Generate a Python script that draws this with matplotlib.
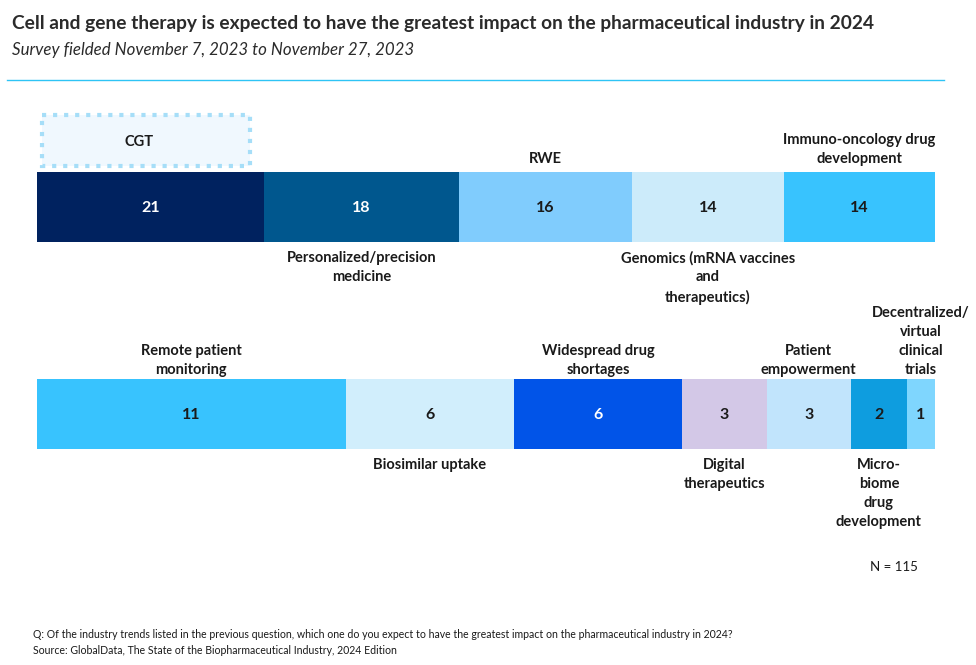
import numpy as np
import matplotlib.pyplot as plt
from matplotlib.patches import Rectangle

plt.rcParams['font.family'] = ['Lato', 'DejaVu Sans']

# Datos de las dos filas
row1_labels = ['CGT', 'Personalized/precision\nmedicine', 'RWE',
               'Genomics (mRNA vaccines\nand\ntherapeutics)',
               'Immuno-oncology drug\ndevelopment']
row1_values = [21, 18, 16, 14, 14]
row1_colors = ['#00225F', '#00578E', '#80CCFD', '#CCEBFA', '#38C3FE']
row1_side = ['box', 'below', 'above', 'below', 'above']

row2_labels = ['Remote patient\nmonitoring', 'Biosimilar uptake',
               'Widespread drug\nshortages', 'Digital\ntherapeutics',
               'Patient\nempowerment', 'Micro-\nbiome\ndrug\ndevelopment',
               'Decentralized/\nvirtual\nclinical\ntrials']
row2_values = [11, 6, 6, 3, 3, 2, 1]
row2_colors = ['#38C3FE', '#D1EEFC', '#0154E8', '#D3C8E7', '#C1E4FC',
               '#0E9DDF', '#7FD6FE']
row2_side = ['above', 'below', 'above', 'below', 'above', 'below', 'above']

dark_text = ['#00225F', '#00578E', '#0154E8']

W, H = 976, 665
fig = plt.figure(figsize=(W / 100, H / 100), dpi=100)

LAB = 10.5


def row_axes(total):
    ax = fig.add_axes([37 / W, 0, 898 / W, 1])
    ax.set_xlim(0, total)
    ax.set_ylim(H, 0)
    ax.axis('off')
    ax.patch.set_alpha(0)
    return ax


def draw_row(ax, values, colors, labels, sides, yc, gap_above, gap_below):
    lefts = np.concatenate([[0], np.cumsum(values)[:-1]])
    ax.barh(yc, values, left=lefts, height=70, color=colors, linewidth=0)
    for v, l, c, lab, side in zip(values, lefts, colors, labels, sides):
        xc = l + v / 2
        tc = 'white' if c in dark_text else '#1A1A1A'
        ax.text(xc, yc + 1, str(v), ha='center', va='center', fontsize=11.5,
                fontweight='bold', color=tc)
        if side == 'above':
            ax.text(xc, yc - 35 - gap_above, lab, ha='center', va='bottom',
                    fontsize=LAB, fontweight='bold', color='#1A1A1A',
                    linespacing=1.45)
        elif side == 'below':
            ax.text(xc, yc + 35 + gap_below, lab, ha='center', va='top',
                    fontsize=LAB, fontweight='bold', color='#1A1A1A',
                    linespacing=1.45)
        else:
            ax.add_patch(Rectangle((l + v * 0.022, 115), v * 0.915, 51,
                                   facecolor='#F0F8FE', edgecolor='#A6DEF8',
                                   linestyle=':', linewidth=3))
            ax.text(xc - v * 0.05, 142, lab, ha='center', va='center',
                    fontsize=LAB, fontweight='bold', color='#1A1A1A')


ax1 = row_axes(sum(row1_values))
draw_row(ax1, row1_values, row1_colors, row1_labels, row1_side, 207, 6, 9)
ax2 = row_axes(sum(row2_values))
draw_row(ax2, row2_values, row2_colors, row2_labels, row2_side, 414, 2, 9)

# Titulos y notas
fig.text(12 / W, 1 - 24 / H, 'Cell and gene therapy is expected to have the greatest impact on the pharmaceutical industry in 2024',
         fontsize=13.8, fontweight='bold', color='#2B2B2B', va='center')
fig.text(12 / W, 1 - 50 / H, 'Survey fielded November 7, 2023 to November 27, 2023',
         fontsize=12.2, style='italic', color='#2B2B2B', va='center')
fig.add_artist(plt.Line2D([7 / W, 944 / W], [1 - 80 / H, 1 - 80 / H],
                          color='#2EC4F5', linewidth=1))
fig.text(918 / W, 1 - 567 / H, 'N = 115', fontsize=9.5, color='#1A1A1A',
         ha='right', va='center')
fig.text(33 / W, 1 - 634 / H, 'Q: Of the industry trends listed in the previous question, which one do you expect to have the greatest impact on the pharmaceutical industry in 2024?',
         fontsize=7.6, color='#1A1A1A', va='center')
fig.text(33 / W, 1 - 651 / H, 'Source: GlobalData, The State of the Biopharmaceutical Industry, 2024 Edition',
         fontsize=7.6, color='#1A1A1A', va='center')

fig.savefig('out.png', dpi=100)
